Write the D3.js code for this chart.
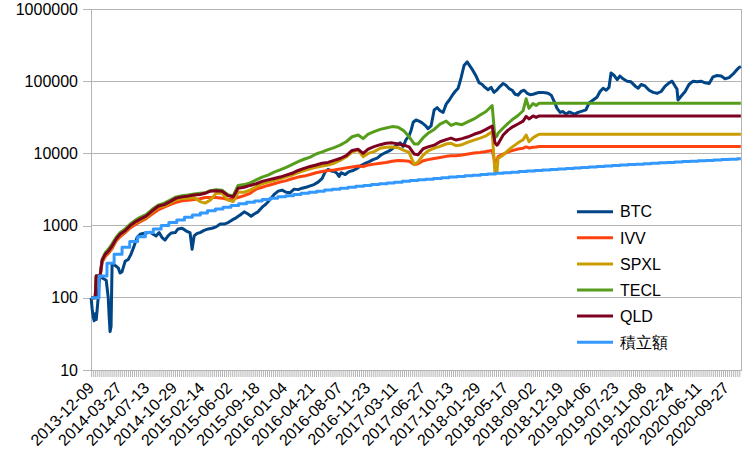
<!DOCTYPE html>
<html><head><meta charset="utf-8">
<script src="https://cdn.jsdelivr.net/npm/d3@7"></script>
<style>
body{margin:0;background:#fff}
svg{display:block}
text{font-family:"Liberation Sans",Arial,sans-serif}
</style>
</head><body>
<svg id="chart" width="756" height="474"></svg>
<script>
// ---------- data ----------
const startDate = "2013-12-09";
const totalDays = 2543;
const tickLabels = ["2013-12-09","2014-03-27","2014-07-13","2014-10-29","2015-02-14","2015-06-02",
  "2015-09-18","2016-01-04","2016-04-21","2016-08-07","2016-11-23","2017-03-11","2017-06-27",
  "2017-10-13","2018-01-29","2018-05-17","2018-09-02","2018-12-19","2019-04-06","2019-07-23",
  "2019-11-08","2020-02-24","2020-06-11","2020-09-27"];
const yTicks = [10, 100, 1000, 10000, 100000, 1000000];
const seriesNames = ["BTC", "IVV", "SPXL", "TECL", "QLD", "積立額"];
const seriesColors = ["#004586", "#ff420e", "#c99c00", "#579d1c", "#7e0021", "#3399ff"];

// days since startDate for ETF samples
const etfDays = [0,16,20,35,43,55,67,82,98,113,133,153,172,192,215,239,262,286,309,333,
  356,379,403,426,446,466,489,512,536,556,575,599,622,646,669,692,716,739,763,786,
  810,833,857,880,904,927,951,974,998,1021,1045,1064,1084,1107,1131,1154,1178,1201,1224,1244,
  1264,1279,1299,1318,1342,1365,1389,1408,1428,1451,1475,1498,1522,1545,1569,1580,1588,1592,1612,1631,
  1651,1670,1690,1702,1713,1729,1741,1753,2542];
const ivv = [100,100,200,195,310,370,410,480,610,700,
  800,930,1030,1130,1250,1450,1650,1800,1950,2100,
  2200,2250,2300,2350,2450,2450,2450,2400,2300,2350,
  2450,2600,2800,3200,3400,3600,3800,4000,4200,4450,
  4700,4850,5100,5400,5600,5800,5900,6100,6300,6500,
  6700,6600,6900,7100,7300,7500,7800,8000,7900,7800,
  7000,7200,7900,8200,8500,8800,9100,9300,9300,9500,
  9800,10100,10300,10600,11000,7500,7800,9000,9800,10500,
  11000,11500,11800,12300,11900,12200,12300,12500,12500];
const spxl = [100,100,200,195,320,390,430,505,630,740,
  830,970,1090,1190,1300,1550,1780,1880,2050,2280,
  2380,2400,2450,2150,2050,2250,2800,2800,2250,2150,
  2900,2900,3100,3450,3800,4000,4200,4450,4750,5000,
  5400,5800,6100,6400,6700,6900,7300,8000,8900,10500,
  11000,9000,10000,10600,11800,12200,12300,12000,11000,10300,
  7000,7600,9500,10800,11800,12500,13500,13800,12800,13200,
  14300,15300,16300,17500,20000,5300,5600,8500,9500,11000,
  12500,14000,15500,18000,14500,16500,17500,18400,18400];
const tecl = [100,100,200,205,340,420,470,560,690,800,
  900,1050,1180,1300,1420,1680,1920,2050,2250,2500,
  2600,2650,2750,2800,2850,3050,3150,3100,2650,2600,
  3600,3700,3900,4300,4700,5000,5500,5900,6400,7000,
  7700,8300,8900,9800,10500,11300,12000,13000,14500,17000,
  18000,16000,18500,20000,21500,22500,23500,23000,20500,17000,
  13500,13500,16500,19000,21500,25500,28000,24500,26000,25000,
  27500,30000,34000,38000,46000,16500,17500,19000,22500,26000,
  30000,33500,39000,57000,42000,49000,46000,49400,49400];
const qld = [100,100,200,200,330,400,440,520,650,760,
  850,1000,1120,1230,1350,1600,1850,1950,2150,2400,
  2500,2560,2650,2700,2800,3000,3050,3000,2600,2500,
  3300,3400,3600,3800,4100,4300,4500,4700,5000,5300,
  5800,6200,6600,6900,7300,7500,8000,8500,9300,11000,
  11400,10000,11500,12400,13200,13800,14000,13500,13000,12300,
  9800,9600,11600,12300,13000,14500,15500,16300,15300,16000,
  17000,18400,19600,21500,24000,14000,13000,13500,18000,21000,
  23500,25500,28000,32500,30000,33000,31500,33000,33000];

// days since startDate for BTC samples
const btcDays = [0,4,8,12,16,20,23,27,31,35,
  47,59,67,70,74,78,82,94,106,113,
  121,133,145,156,168,180,192,203,215,231,
  243,254,266,278,289,301,313,329,340,356,
  368,379,387,395,403,415,426,442,458,473,
  489,505,520,536,552,567,583,599,614,626,
  638,653,669,685,700,716,732,747,763,778,
  794,810,825,841,857,872,888,904,915,927,
  939,951,962,970,978,994,1009,1025,1041,1056,
  1072,1088,1103,1119,1134,1150,1166,1181,1197,1209,
  1221,1232,1244,1252,1260,1271,1283,1295,1307,1318,
  1330,1342,1354,1365,1377,1389,1400,1412,1424,1436,
  1447,1459,1471,1483,1494,1506,1518,1530,1541,1553,
  1565,1576,1588,1600,1612,1623,1635,1647,1659,1670,
  1682,1694,1706,1717,1729,1741,1753,1764,1776,1788,
  1800,1811,1823,1835,1846,1858,1870,1882,1893,1905,
  1921,1936,1948,1964,1979,1991,2003,2015,2026,2034,
  2046,2058,2069,2081,2097,2112,2128,2140,2152,2167,
  2183,2199,2214,2230,2245,2261,2273,2285,2292,2296,
  2308,2324,2339,2355,2371,2386,2402,2418,2433,2449,
  2465,2480,2496,2511,2523,2535,2542];
const btc = [100,70,55,48,60,50,65,95,160,200,
  185,175,100,60,34,40,300,280,260,220,
  230,320,340,400,520,690,760,780,790,810,
  760,720,800,680,630,720,790,800,900,920,
  860,820,800,470,720,780,800,860,900,920,
  960,1050,1050,1100,1200,1280,1400,1550,1450,1350,
  1450,1550,1800,2000,2300,2700,3000,3100,2900,2850,
  3200,3150,3300,3400,3550,3700,4000,4500,5500,6000,
  5700,5600,5300,4800,5400,5100,5600,5800,6200,6800,
  7300,7700,8200,8600,9500,10200,10800,11800,13200,14000,
  12500,15500,17500,21000,27000,29000,28000,26500,24500,22000,
  24000,40000,43000,39000,37000,48000,54000,63000,72000,80000,
  110000,165000,185000,160000,140000,118000,95000,90000,82000,76000,
  82000,70000,76000,85000,93000,88000,79000,75000,66000,64000,
  72000,75000,68000,65000,66000,68000,70000,70000,69000,68000,
  64000,53000,42000,37000,38000,35000,37500,36000,35000,37000,
  38500,40000,50000,55000,60000,72000,80000,75000,82000,130000,
  120000,105000,118000,108000,100000,98000,86000,80000,90000,86000,
  75000,70000,68000,72000,85000,95000,100000,85000,78000,55000,
  62000,72000,90000,100000,98000,100000,95000,93000,115000,120000,
  118000,108000,112000,125000,140000,155000,160000];

// cumulative monthly investment (one value per month from startDate)
const investAmounts = [100,200,300,400,500,600,700,800,900,1000,
  1100,1200,1300,1400,1500,1600,1700,1800,1900,2000,
  2100,2200,2300,2400,2500,2600,2700,2800,2900,3000,
  3100,3200,3300,3400,3500,3600,3700,3800,3900,4000,
  4100,4200,4300,4400,4500,4600,4700,4800,4900,5000,
  5100,5200,5300,5400,5500,5600,5700,5800,5900,6000,
  6100,6200,6300,6400,6500,6600,6700,6800,6900,7000,
  7100,7200,7300,7400,7500,7600,7700,7800,7900,8000,
  8100,8200,8300,8400];

// ---------- chart ----------
const svg = d3.select("#chart");
const L = 91, R = 741, T = 9, B = 370;
const gridColor = "#b3b3b3";
const start = new Date(startDate + "T00:00:00Z");
const dayOf = d => Math.round((d - start) / 864e5);

const x = d3.scaleLinear().domain([-0.5, totalDays - 0.5]).range([L, R]);
const y = d3.scaleLog().domain([10, 1e6]).range([B, T]);

// gridlines
svg.append("g").selectAll("line").data(yTicks).join("line")
  .attr("x1", L).attr("x2", R)
  .attr("y1", d => y(d)).attr("y2", d => y(d))
  .attr("stroke", gridColor).attr("stroke-width", 1).attr("shape-rendering", "crispEdges");

// plot border
svg.append("rect").attr("x", L).attr("y", T).attr("width", R - L).attr("height", B - T)
  .attr("fill", "none").attr("stroke", gridColor).attr("shape-rendering", "crispEdges");

// y axis
const yAxis = svg.append("g").attr("transform", `translate(${L},0)`)
  .call(d3.axisLeft(y).tickValues(yTicks).tickFormat(d3.format("d")).tickSize(8).tickSizeOuter(0).tickPadding(5));
yAxis.selectAll("path,line").attr("stroke", gridColor).attr("shape-rendering", "crispEdges");
yAxis.selectAll("text").attr("font-size", 16).attr("fill", "#000")
  .attr("font-family", '"Liberation Sans",Arial,sans-serif');

// x axis (dense category ticks)
const minorTicks = d3.range(0, totalDays, 8);
const xAxis = svg.append("g").attr("transform", `translate(0,${B})`)
  .call(d3.axisBottom(x).tickValues(minorTicks).tickFormat("").tickSize(7).tickSizeOuter(0));
xAxis.selectAll("path,line").attr("stroke", gridColor);
xAxis.select("path").attr("shape-rendering", "crispEdges");

// x labels
const labelDays = tickLabels.map(s => dayOf(new Date(s + "T00:00:00Z")));
svg.append("g").selectAll("text").data(tickLabels).join("text")
  .attr("transform", (d, i) => `translate(${x(labelDays[i]) + 4},${B + 19}) rotate(-45)`)
  .attr("text-anchor", "end").attr("font-size", 16).attr("fill", "#000")
  .text(d => d);

// series
const line = d3.line().x(d => x(d[0])).y(d => y(d[1]));
const stepLine = d3.line().x(d => x(d[0])).y(d => y(d[1])).curve(d3.curveStepAfter);
const zip = (a, b) => a.map((v, i) => [v, b[i]]);

const investPts = investAmounts.map((v, k) => [dayOf(d3.utcMonth.offset(start, k)), v]);
investPts.push([totalDays - 1, investAmounts[investAmounts.length - 1]]);

const series = [
  { pts: zip(btcDays, btc), gen: line },
  { pts: zip(etfDays, ivv), gen: line },
  { pts: zip(etfDays, spxl), gen: line },
  { pts: zip(etfDays, tecl), gen: line },
  { pts: zip(etfDays, qld), gen: line },
  { pts: investPts, gen: stepLine }
];
const plot = svg.append("g");
series.forEach((s, i) => {
  plot.append("path").attr("d", s.gen(s.pts))
    .attr("fill", "none").attr("stroke", seriesColors[i])
    .attr("stroke-width", 3).attr("stroke-linejoin", "round");
});

// legend
const lg = svg.append("g");
seriesNames.forEach((n, i) => {
  const yy = 211.7 + i * 26.1;
  lg.append("line").attr("x1", 577).attr("x2", 613).attr("y1", yy).attr("y2", yy)
    .attr("stroke", seriesColors[i]).attr("stroke-width", 3);
  lg.append("text").attr("x", 620).attr("y", yy).attr("dy", "0.36em")
    .attr("font-size", 16).attr("fill", "#000")
    .attr("font-family", i === 5 ? '"Noto Sans CJK JP",sans-serif' : '"Liberation Sans",Arial,sans-serif')
    .text(n);
});
</script>
</body></html>
